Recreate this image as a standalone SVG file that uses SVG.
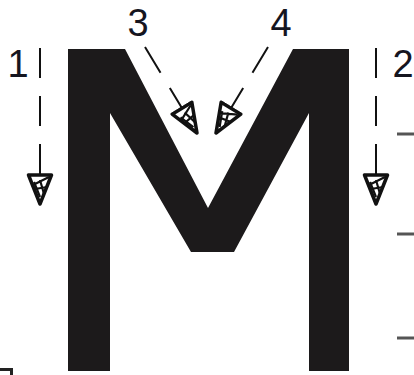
<svg xmlns="http://www.w3.org/2000/svg" width="414" height="375" viewBox="0 0 414 375">
  <style>
    .lbl { font-family: "Liberation Sans", Arial, sans-serif; font-size: 38px; fill: #15151f; text-anchor: middle; }
    .arr { stroke: #111; stroke-width: 2; fill: none; stroke-dasharray: 30 18; marker-end: url(#head); }
    .tick { stroke: #555; stroke-width: 3; }
  </style>
  <defs>
    <marker id="head" markerUnits="userSpaceOnUse" markerWidth="34" markerHeight="30" refX="31" refY="14" orient="auto" viewBox="0 0 34 30">
      <path d="M2,2.5 L31,14 L2,25.5 Z" fill="#fff" stroke="#111" stroke-width="3.5" stroke-linejoin="round"/>
      <path d="M4,5 L12,21 M7,14 L21,10 M14,7 L16,19 M9,20 L24,14" stroke="#111" stroke-width="2.2" fill="none"/>
    </marker>
  </defs>
  <rect width="414" height="375" fill="#fff"/>
  <g id="letter-M">
    <path d="M68,49 L125,49 L208,208 L293,49 L349,49 L349,371 L309,371 L309,113 L234,252 L191,252 L110,113 L110,371 L68,371 Z" fill="#1c1a1b"/>
  </g>
  <g id="ticks">
    <line class="tick" x1="397" y1="134" x2="414" y2="134"/>
    <line class="tick" x1="397" y1="234" x2="414" y2="234"/>
    <line class="tick" x1="397" y1="338" x2="414" y2="338"/>
  </g>
  <g id="fragment">
    <path d="M0,369.5 L11.5,369.5 L11.5,375" stroke="#222" stroke-width="3" fill="none"/>
  </g>
  <g id="connectors">
    <line class="arr" x1="40" y1="48" x2="40" y2="204"/>
    <line class="arr" x1="376" y1="48" x2="376" y2="204"/>
    <line class="arr" x1="145" y1="47" x2="197" y2="133"/>
    <line class="arr" x1="268" y1="47" x2="216" y2="133"/>
  </g>
  <g id="label-1"><text class="lbl" x="18" y="77">1</text></g>
  <g id="label-2"><text class="lbl" x="403" y="77">2</text></g>
  <g id="label-3"><text class="lbl" x="138" y="36">3</text></g>
  <g id="label-4"><text class="lbl" x="281" y="36">4</text></g>
</svg>
